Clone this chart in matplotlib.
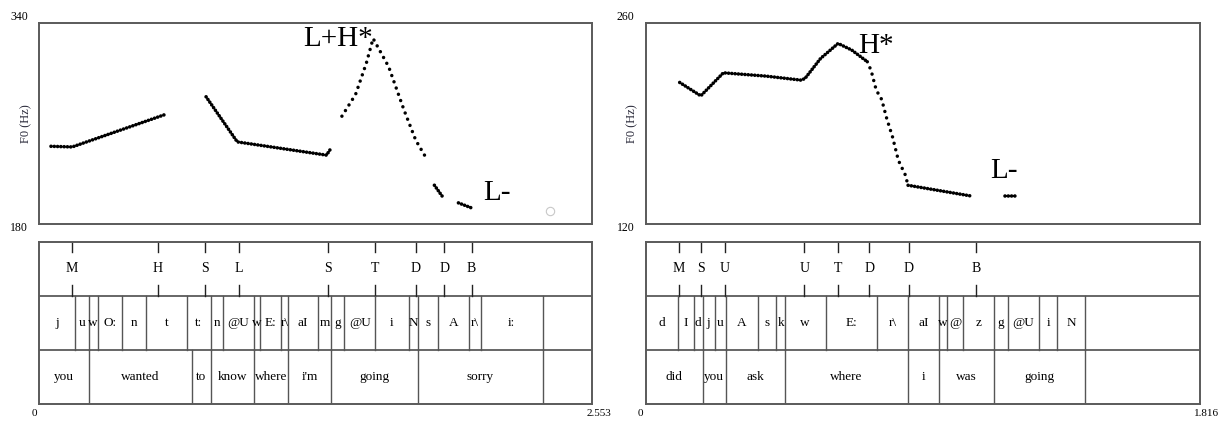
import matplotlib
matplotlib.use("Agg")
import matplotlib.pyplot as plt

plt.rcParams['font.family'] = ['Liberation Serif', 'DejaVu Serif']

# ---------------- left utterance ----------------
L_DUR = 2.553
L_FMIN, L_FMAX = 180, 340
# pitch contour pieces: (times, Hz)
L_dense = [
    ([0.054, 0.152, 0.582], [241.9, 241.4, 267.2]),
    ([0.770, 0.914, 1.326, 1.348], [281.2, 245.4, 234.9, 240.7]),
    ([1.824, 1.868], [211.0, 200.4]),
    ([1.935, 2.003], [197.0, 192.5]),
]
L_dotted_t = [1.397, 1.460, 1.510, 1.541, 1.613, 1.684, 1.738, 1.792]
L_dotted_f = [265.8, 283.0, 308.0, 327.5, 305.0, 270.6, 246.7, 230.9]
L_circle = (2.356, 190.6)
L_tone_t = [0.149, 0.546, 0.767, 0.921, 1.335, 1.550, 1.738, 1.869, 1.996]
L_tone_lab = ['M', 'H', 'S', 'L', 'S', 'T', 'D', 'D', 'B']
L_phone_b = [0.1666, 0.2293, 0.2687, 0.3816, 0.4927, 0.6808, 0.7937, 0.8492,
             0.9890, 1.0176, 1.1162, 1.1484, 1.2863, 1.3473, 1.4082, 1.5497,
             1.7056, 1.7468, 1.8400, 1.9851, 2.0370, 2.3237]
L_phone_lab = ['j', 'u', 'w', 'O:', 'n', 't', 't:', 'n', '@U', 'w', 'E:', 'r\\',
               'aI', 'm', 'g', '@U', 'i', 'N', 's', 'A', 'r\\', 'i:', '']
L_word_b = [0.2293, 0.7041, 0.7937, 0.9890, 1.1484, 1.3473, 1.7468, 2.3237]
L_word_lab = ['you', 'wanted', 'to', 'know', 'where', "i'm", 'going', 'sorry', '']
L_notes = [('L+H*', 1.22, 327), ('L-', 2.05, 205)]

# ---------------- right utterance ----------------
R_DUR = 1.816
R_FMIN, R_FMAX = 120, 260
R_dense = [
    ([0.112, 0.181, 0.255, 0.395, 0.510, 0.5225, 0.5735, 0.6308, 0.6754, 0.7264],
     [218.5, 209.2, 225.2, 222.9, 220.1, 221.3, 235.2, 245.6, 241.0, 232.9]),
    ([0.860, 1.0705], [147.1, 139.5]),
    ([1.1788, 1.2209], [139.5, 139.5]),
]
R_dotted_t = [0.7264, 0.739, 0.7557, 0.7735, 0.790, 0.809, 0.828, 0.850, 0.860]
R_dotted_f = [232.9, 226.7, 213.2, 206.7, 193.5, 180.7, 164.5, 154.7, 147.1]
R_tone_t = [0.110, 0.1816, 0.2596, 0.5205, 0.6318, 0.7328, 0.8620, 1.0820]
R_tone_lab = ['M', 'S', 'U', 'U', 'T', 'D', 'D', 'B']
R_phone_b = [0.1074, 0.1586, 0.1867, 0.2276, 0.2622, 0.3683, 0.4284, 0.4566,
             0.5896, 0.7597, 0.8594, 0.9605, 0.9886, 1.0397, 1.1421, 1.1868,
             1.2891, 1.3492, 1.4400]
R_phone_lab = ['d', 'I', 'd', 'j', 'u', 'A', 's', 'k', 'w', 'E:', 'r\\', 'aI',
               'w', '@', 'z', 'g', '@U', 'i', 'N', '']
R_word_b = [0.1867, 0.2622, 0.4566, 0.8594, 0.9605, 1.1421, 1.4400]
R_word_lab = ['did', 'you', 'ask', 'where', 'i', 'was', 'going', '']
R_notes = [('H*', 0.698, 244), ('L-', 1.13, 157)]

W, H = 1221, 425
fig = plt.figure(figsize=(W / 100, H / 100), dpi=100)
BOX = '#5a5a5a'


def px_axes(x0, y0, x1, y1):
    return fig.add_axes([x0 / W, 1 - y1 / H, (x1 - x0) / W, (y1 - y0) / H])


def style(ax):
    ax.set_xticks([]); ax.set_yticks([])
    for s in ax.spines.values():
        s.set_color(BOX); s.set_linewidth(1.4)


def panel(x0, x1, dur, fmin, fmax, dense, dt, df, tone_t, tone_lab,
          ph_b, ph_lab, wd_b, wd_lab, notes, circle=None):
    ax = px_axes(x0, 22.7, x1, 224.3)
    style(ax)
    ax.set_xlim(0, dur); ax.set_ylim(fmin, fmax)
    # dense stretches: beads packed close together
    for t, f in dense:
        ax.plot(t, f, color='black', lw=2.6, linestyle=(0, (0.01, 0.9)),
                dash_capstyle='round')
    ax.plot(dt, df, color='black', lw=2.5, linestyle=(0, (0.01, 1.9)),
            dash_capstyle='round')
    if circle:
        ax.plot(*circle, 'o', mfc='none', mec='#c8c8c8', ms=6, mew=0.8)
    for s, t, f in notes:
        ax.text(t, f, s, fontsize=21, va='center', ha='left')
    fig.text((x0 - 20) / W, 1 - 17 / H, str(fmax), fontsize=8.5,
             ha='center', va='center')
    fig.text((x0 - 20) / W, 1 - 228 / H, str(fmin), fontsize=8.5,
             ha='center', va='center')
    fig.text((x0 - 13) / W, 1 - 124 / H, 'F0 (Hz)', fontsize=9, rotation=90,
             ha='center', va='center', color='#2a2a3a')

    tx = px_axes(x0, 241.5, x1, 404)
    style(tx)
    tx.set_xlim(0, dur); tx.set_ylim(0, 3)
    for y in (1, 2):
        tx.axhline(y, color=BOX, lw=1.3)
    # tone tier (points)
    for t, s in zip(tone_t, tone_lab):
        tx.plot([t, t], [3, 2.8], color='#222', lw=1.0)
        tx.plot([t, t], [2, 2.2], color='#222', lw=1.0)
        tx.text(t, 2.5, s, fontsize=10, ha='center', va='center')
    # phone tier
    edges = [0] + ph_b + [dur]
    for t in ph_b:
        tx.plot([t, t], [1, 2], color='#555', lw=1.0)
    for a, b, s in zip(edges[:-1], edges[1:], ph_lab):
        tx.text((a + b) / 2, 1.5, s, fontsize=9.5, ha='center', va='center')
    # word tier
    edges = [0] + wd_b + [dur]
    for t in wd_b:
        tx.plot([t, t], [0, 1], color='#555', lw=1.0)
    for a, b, s in zip(edges[:-1], edges[1:], wd_lab):
        tx.text((a + b) / 2, 0.5, s, fontsize=9.5, ha='center', va='center')
    fig.text((x0 - 5) / W, 1 - 413 / H, '0', fontsize=8, ha='center', va='center')
    fig.text((x1 + 7) / W, 1 - 413 / H, f'{dur:.3f}', fontsize=8,
             ha='center', va='center')


panel(39.3, 592.3, L_DUR, L_FMIN, L_FMAX, L_dense, L_dotted_t, L_dotted_f,
      L_tone_t, L_tone_lab, L_phone_b, L_phone_lab, L_word_b, L_word_lab,
      L_notes, L_circle)
panel(645.5, 1200, R_DUR, R_FMIN, R_FMAX, R_dense, R_dotted_t, R_dotted_f,
      R_tone_t, R_tone_lab, R_phone_b, R_phone_lab, R_word_b, R_word_lab,
      R_notes)

fig.savefig('out.png', dpi=100)
